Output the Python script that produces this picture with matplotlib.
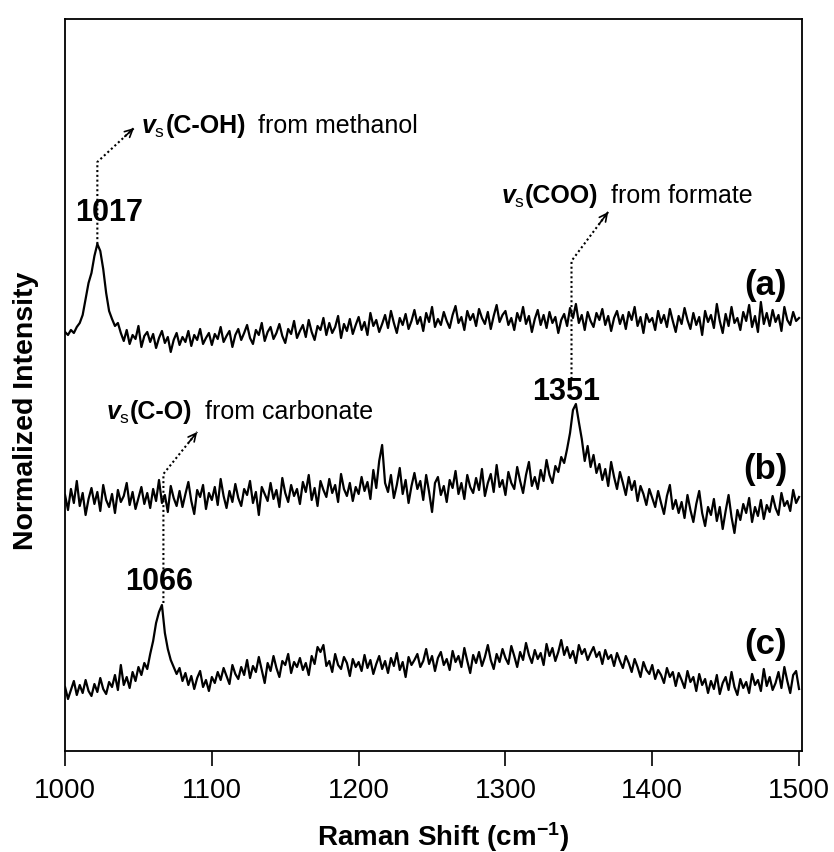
import numpy as np
import matplotlib
matplotlib.use("Agg")
import matplotlib.pyplot as plt
from matplotlib.offsetbox import TextArea, HPacker, AnnotationBbox

plt.rcParams['font.family'] = ['Liberation Sans', 'DejaVu Sans']
plt.rcParams['mathtext.fontset'] = 'custom'
plt.rcParams['mathtext.it'] = 'Liberation Sans:italic:bold'
plt.rcParams['mathtext.rm'] = 'Liberation Sans'
plt.rcParams['mathtext.bf'] = 'Liberation Sans:bold'

# Raman shift grid (cm-1), one reading every 2 cm-1
raman_shift = np.arange(1000, 1502, 2)

# (a) methanol band at ~1017
spec_a = [419, 416, 421, 418, 424, 428, 436, 452, 468, 478,
          495, 507, 500, 482, 458, 440, 432, 425, 428, 418,
          410, 421, 407, 416, 412, 425, 404, 415, 419, 409,
          417, 403, 413, 420, 408, 414, 399, 411, 418, 406,
          414, 409, 420, 405, 416, 411, 422, 407, 413, 418,
          406, 417, 412, 424, 409, 415, 420, 404, 416, 422,
          411, 418, 426, 413, 407, 421, 416, 428, 410, 419,
          424, 412, 418, 427, 415, 408, 422, 417, 430, 413,
          420, 426, 414, 431, 419, 411, 425, 421, 433, 416,
          428, 418, 424, 435, 413, 427, 420, 432, 417, 426,
          434, 421, 429, 416, 438, 425, 431, 419, 427, 436,
          423, 440, 428, 418, 433, 426, 437, 422, 430, 441,
          427, 434, 420, 438, 429, 444, 424, 432, 426, 439,
          430, 423, 436, 445, 428, 434, 421, 440, 431, 437,
          425, 442, 433, 427, 439, 422, 435, 446, 429, 436,
          440, 426, 433, 421, 438, 430, 444, 427, 435, 419,
          432, 441, 426, 436, 423, 439, 428, 434, 418, 431,
          437, 425, 443, 433, 447, 428, 436, 421, 439, 430,
          424, 438, 431, 442, 426, 435, 420, 433, 440, 427,
          436, 422, 439, 431, 444, 425, 434, 418, 437, 429,
          433, 421, 440, 428, 436, 424, 442, 430, 419, 435,
          427, 443, 431, 422, 438, 426, 434, 416, 440, 429,
          436, 423, 447, 430, 418, 437, 425, 444, 428, 433,
          421, 439, 430, 446, 424, 435, 419, 449, 427, 438,
          425, 441, 429, 436, 420, 444, 431, 426, 439, 430,
          433]

# (b) formate band at ~1351
spec_b = [256, 241, 262, 248, 270, 245, 258, 236, 252, 263,
          247, 259, 240, 266, 251, 244, 257, 238, 261, 249,
          255, 268, 246, 259, 242, 253, 264, 247, 258, 243,
          262, 250, 271, 248, 256, 239, 265, 253, 245, 260,
          244, 257, 269, 250, 237, 261, 254, 266, 242, 258,
          251, 264, 246, 272, 255, 243, 260, 249, 267, 253,
          245, 262, 256, 270, 248, 259, 236, 264, 257, 250,
          268, 252, 261, 244, 273, 258, 249, 266, 255, 262,
          247, 269, 259, 276, 251, 263, 245, 270, 261, 254,
          272, 258, 266, 249, 277, 262, 255, 268, 250, 264,
          257, 274, 260, 269, 252, 281, 263, 290, 306, 268,
          259, 276, 253, 266, 283, 257, 271, 248, 265, 278,
          262, 270, 251, 276, 259, 239, 268, 274, 256, 265,
          249, 271, 263, 280, 257, 268, 252, 276, 264, 258,
          273, 261, 282, 255, 268, 277, 259, 286, 264, 271,
          256, 279, 268, 262, 284, 270, 258, 276, 289, 265,
          274, 262, 281, 270, 291, 276, 268, 285, 279, 294,
          288, 302, 318, 341, 347, 329, 312, 290, 305, 284,
          296, 278, 287, 271, 282, 265, 289, 274, 262, 279,
          268, 256, 274, 261, 270, 250, 265, 257, 246, 262,
          253, 244, 260, 248, 237, 255, 266, 242, 251, 238,
          249, 233, 256, 241, 229, 247, 260, 238, 225, 244,
          236, 252, 230, 244, 222, 240, 256, 234, 218, 241,
          231, 247, 238, 253, 229, 244, 235, 251, 232, 246,
          239, 255, 243, 236, 258, 245, 250, 240, 261, 248,
          254]

# (c) carbonate band at ~1066
spec_c = [64, 52, 61, 70, 56, 66, 58, 71, 60, 55,
          67, 59, 73, 62, 57, 69, 64, 76, 61, 86,
          66, 74, 63, 79, 70, 84, 76, 88, 82, 97,
          110, 128, 139, 146, 118, 102, 91, 84, 77, 83,
          70, 78, 66, 75, 62, 73, 80, 64, 71, 60,
          74, 68, 79, 71, 83, 75, 67, 86, 77, 72,
          84, 76, 91, 73, 85, 79, 94, 81, 68, 88,
          80, 95, 83, 74, 90, 86, 97, 78, 89, 84,
          93, 81, 88, 76, 95, 87, 104, 99, 106, 85,
          90, 79, 97, 86, 82, 94, 88, 75, 92, 84,
          89, 80, 96, 83, 91, 77, 87, 95, 82, 90,
          78, 93, 85, 98, 81, 89, 74, 94, 86, 91,
          97, 84, 90, 102, 87, 95, 80, 93, 99, 86,
          92, 81, 100, 89, 95, 84, 103, 90, 78, 96,
          88, 99, 85, 94, 106, 91, 82, 97, 89, 102,
          93, 87, 105, 95, 84, 99, 91, 108, 96, 88,
          101, 92, 98, 86, 107, 95, 103, 90, 99, 111,
          96, 104, 93, 100, 88, 106, 97, 102, 91, 98,
          104, 94, 99, 87, 101, 92, 96, 85, 98, 90,
          83, 95, 88, 79, 92, 84, 74, 89, 81, 77,
          86, 72, 81, 76, 68, 83, 74, 79, 65, 78,
          71, 63, 80, 69, 74, 60, 77, 66, 72, 58,
          70, 62, 76, 57, 68, 74, 61, 79, 64, 56,
          72, 63, 69, 58, 77, 66, 71, 60, 82, 65,
          74, 61, 68, 79, 63, 84, 70, 58, 76, 80,
          62]

series_tags = ['(a)', '(b)', '(c)']
peak_labels = ['1017', '1351', '1066']
band_bold = ['(C-OH)', '(COO)', '(C-O)']
band_plain = ['from methanol', 'from formate', 'from carbonate']

fig = plt.figure(figsize=(8.34, 8.53), dpi=100)
ax = fig.add_axes([0.078, 0.1184, 0.8836, 0.8582])

for s in (spec_a, spec_b, spec_c):
    ax.plot(raman_shift, s, color='black', lw=1.6)

ax.set_xlim(1000, 1502)
ax.set_ylim(0, 732)
ax.set_yticks([])
ax.set_xticks([1000, 1100, 1200, 1300, 1400, 1500])
ax.tick_params(axis='x', direction='out', length=11, width=1.2, labelsize=20, pad=8)
for sp in ax.spines.values():
    sp.set_linewidth(1.3)

ax.set_xlabel('Raman Shift (cm$^{\\mathbf{-1}}$)', fontsize=20, fontweight='bold')
ax.set_ylabel('Normalized Intensity', fontsize=20.5, fontweight='bold')
ax.xaxis.set_label_coords(0.513, -0.093)
ax.yaxis.set_label_coords(-0.035, 0.466)

# series tags on the right
for tag, y in zip(series_tags, [466, 282, 107]):
    ax.text(1477, y, tag, fontsize=25, fontweight='bold', ha='center', va='center')

# peak positions
for lab, (x, y) in zip(peak_labels, [(1030, 539), (1341, 360), (1064, 170)]):
    ax.text(x, y, lab, fontsize=22, fontweight='bold', ha='center', va='center')


def guide(path, head):
    xs = [p[0] for p in path] + [head[0]]
    ys = [p[1] for p in path] + [head[1]]
    ax.plot(xs, ys, color='black', lw=1.5, linestyle=(0, (1, 1.3)))
    dx = head[0] - path[-1][0]
    dy = head[1] - path[-1][1]
    ax.annotate('', xy=head, xytext=(head[0] - 0.25 * dx, head[1] - 0.25 * dy),
                arrowprops=dict(arrowstyle='->', lw=1.2, color='black',
                                shrinkA=0, shrinkB=0, mutation_scale=14))


guide([(1022, 507), (1022, 589)], (1047, 623))
guide([(1345, 372), (1345, 490)], (1370, 539))
guide([(1067, 148), (1067, 277)], (1090, 319))


def band_note(x, y, bold_part, plain_part):
    head = HPacker(children=[
        TextArea(r'$v_\mathrm{s}$', textprops=dict(fontsize=18, fontweight='bold')),
        TextArea(bold_part, textprops=dict(fontsize=18, fontweight='bold'))],
        align='baseline', pad=0, sep=0)
    box = HPacker(children=[head, TextArea(plain_part, textprops=dict(fontsize=18))],
                  align='baseline', pad=0, sep=9)
    ab = AnnotationBbox(box, (x, y), box_alignment=(0, 0.5), frameon=False, pad=0)
    ax.add_artist(ab)


for (x, y), b, p in zip([(1052, 625), (1297, 555), (1028, 339)], band_bold, band_plain):
    band_note(x, y, b, p)

fig.savefig('out.png', dpi=100)
